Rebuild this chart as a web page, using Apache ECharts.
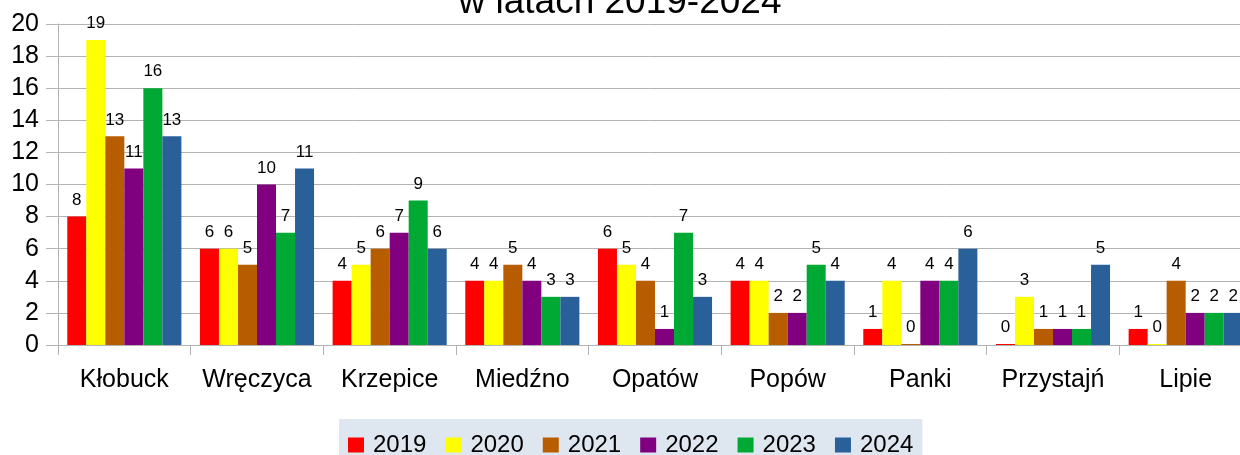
<!DOCTYPE html>
<html>
<head>
<meta charset="utf-8">
<script src="https://cdn.jsdelivr.net/npm/echarts@6/dist/echarts.min.js"></script>
<style>
  html, body { margin: 0; padding: 0; background: #fff; }
  #chart { width: 1240px; height: 455px; }
</style>
</head>
<body>
<div id="chart"></div>
<script>
// gminy
const categories = ['Kłobuck', 'Wręczyca', 'Krzepice', 'Miedźno', 'Opatów', 'Popów', 'Panki', 'Przystajń', 'Lipie']
const years = ['2019', '2020', '2021', '2022', '2023', '2024']

const v2019 = [8, 6, 4, 4, 6, 4, 1, 0, 1]
const v2020 = [19, 6, 5, 4, 5, 4, 4, 3, 0]
const v2021 = [13, 5, 6, 5, 4, 2, 0, 1, 4]
const v2022 = [11, 10, 7, 4, 1, 2, 4, 1, 2]
const v2023 = [16, 7, 9, 3, 7, 5, 4, 1, 2]
const v2024 = [13, 11, 6, 3, 3, 4, 6, 5, 2]

const yTicks = [0, 2, 4, 6, 8, 10, 12, 14, 16, 18, 20]

const values = [v2019, v2020, v2021, v2022, v2023, v2024]
const colors = ['#ff0000', '#ffff00', '#b85c00', '#800080', '#00a933', '#2a6099']

const font = '"Liberation Sans", Arial, sans-serif'
const gray = '#b3b3b3'

const chart = echarts.init(document.getElementById('chart'))

const series = years.map((y, i) => ({
  name: y,
  type: 'bar',
  data: values[i],
  barGap: '0%',
  barCategoryGap: '14%',
  barMinHeight: 1,
  itemStyle: { color: colors[i] },
  label: {
    show: true,
    position: 'top',
    distance: 8,
    color: '#000',
    fontFamily: font,
    fontSize: 17
  }
}))

chart.setOption({
  animation: false,
  textStyle: { fontFamily: font },
  title: {
    text: 'w latach 2019-2024',
    left: 'center',
    top: -21,
    textStyle: { fontSize: 37, fontWeight: 'normal', color: '#000', fontFamily: font }
  },
  legend: {
    data: years,
    left: 339,
    top: 419,
    padding: [14, 9, 14, 9],
    backgroundColor: '#dee6ef',
    itemWidth: 16,
    itemHeight: 15,
    itemGap: 19,
    icon: 'rect',
    textStyle: { fontSize: 24, color: '#000', fontFamily: font, padding: [0, 0, 0, 4] }
  },
  grid: {
    left: 58,
    top: 24,
    bottom: 110,
    width: 1194,
    outerBoundsMode: 'none',
    containLabel: false
  },
  xAxis: {
    type: 'category',
    data: categories,
    axisLine: { lineStyle: { color: gray } },
    axisTick: { show: true, interval: 0, length: 10, lineStyle: { color: gray } },
    axisLabel: { interval: 0, fontSize: 25, color: '#000', margin: 23, fontFamily: font }
  },
  yAxis: {
    type: 'value',
    min: yTicks[0],
    max: yTicks[yTicks.length - 1],
    interval: yTicks[1] - yTicks[0],
    axisLine: { show: true, lineStyle: { color: gray } },
    axisTick: { show: true, length: 12, lineStyle: { color: gray } },
    axisLabel: { fontSize: 25, color: '#000', margin: 19, fontFamily: font },
    splitLine: { lineStyle: { color: gray } }
  },
  series: series
})
</script>
</body>
</html>
